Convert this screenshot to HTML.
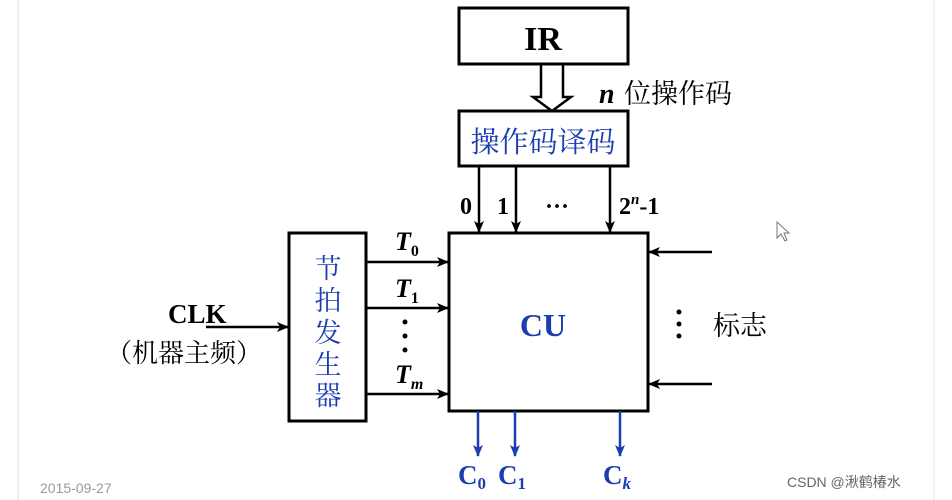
<!DOCTYPE html>
<html><head><meta charset="utf-8"><style>
body{margin:0;background:#fff;}
svg{display:block}
.s{font-family:"Liberation Serif","Noto Serif CJK SC",serif;}
.k{font-family:"Liberation Serif","Noto Serif CJK SC",serif;}
.g{font-family:"Liberation Sans","Noto Sans CJK SC",sans-serif;}
</style></head><body>
<svg width="952" height="500" viewBox="0 0 952 500" xmlns="http://www.w3.org/2000/svg">
<defs>
<marker id="a" markerWidth="12" markerHeight="10" refX="11" refY="5" orient="auto" markerUnits="userSpaceOnUse"><path d="M0,0 L12,5 L0,10 L3,5 Z" fill="#000"/></marker>
<marker id="b" markerWidth="12" markerHeight="10" refX="11" refY="5" orient="auto" markerUnits="userSpaceOnUse"><path d="M0,0 L12,5 L0,10 L3,5 Z" fill="#1a3db0"/></marker>
</defs>
<line x1="18" y1="0" x2="18" y2="500" stroke="#ddd" stroke-width="1"/>
<line x1="934" y1="0" x2="934" y2="500" stroke="#e5e5e5" stroke-width="1"/>
<g fill="none" stroke="#000" stroke-width="3">
<rect x="459" y="8" width="169" height="56"/>
<rect x="459" y="111" width="169" height="55"/>
<rect x="449" y="233" width="199" height="178"/>
<rect x="289" y="233" width="77" height="188"/>
</g>
<path d="M541,64 V97 H533 L552,111 L571,97 H563 V64" fill="none" stroke="#000" stroke-width="2.5"/>
<g stroke="#000" stroke-width="2.5" marker-end="url(#a)">
<line x1="479" y1="166" x2="479" y2="232"/>
<line x1="516" y1="166" x2="516" y2="232"/>
<line x1="610" y1="166" x2="610" y2="232"/>
<line x1="366" y1="262" x2="448" y2="262"/>
<line x1="366" y1="308" x2="448" y2="308"/>
<line x1="366" y1="394" x2="448" y2="394"/>
<line x1="206" y1="327" x2="288" y2="327"/>
<line x1="712" y1="252" x2="649" y2="252"/>
<line x1="712" y1="384" x2="649" y2="384"/>
</g>
<g stroke="#1a3db0" stroke-width="2.5" marker-end="url(#b)">
<line x1="478" y1="411" x2="478" y2="456"/>
<line x1="515" y1="411" x2="515" y2="456"/>
<line x1="620" y1="411" x2="620" y2="456"/>
</g>
<text x="543" y="50" class="s" font-size="34" font-weight="bold" text-anchor="middle">IR</text>
<text x="599" y="103" class="s" font-size="28" font-weight="bold" font-style="italic">n</text>
<text x="624" y="103" class="k" font-size="27">位操作码</text>
<text x="543" y="152" class="k" font-size="29" fill="#1a3db0" text-anchor="middle">操作码译码</text>
<text x="460" y="214" class="s" font-size="24" font-weight="bold">0</text>
<text x="497" y="214" class="s" font-size="24" font-weight="bold">1</text>
<text x="545" y="214" class="s" font-size="24" font-weight="bold">···</text>
<text x="619" y="214" class="s" font-size="24" font-weight="bold">2<tspan font-size="15" dy="-10" font-style="italic">n</tspan><tspan dy="10">-1</tspan></text>
<text x="543" y="336" class="s" font-size="32" font-weight="bold" fill="#1a3db0" text-anchor="middle">CU</text>
<text x="395" y="250" class="s" font-size="26" font-weight="bold" font-style="italic">T<tspan font-size="16" font-style="normal" dy="6">0</tspan></text>
<text x="395" y="297" class="s" font-size="26" font-weight="bold" font-style="italic">T<tspan font-size="16" font-style="normal" dy="6">1</tspan></text>
<text x="395" y="383" class="s" font-size="26" font-weight="bold" font-style="italic">T<tspan font-size="16" dy="6">m</tspan></text>
<g fill="#000"><circle cx="405" cy="322" r="2.5"/><circle cx="405" cy="336" r="2.5"/><circle cx="405" cy="350" r="2.5"/>
<circle cx="679" cy="312" r="2.5"/><circle cx="679" cy="324" r="2.5"/><circle cx="679" cy="336" r="2.5"/></g>
<text x="713" y="335" class="k" font-size="27">标志</text>
<g class="k" font-size="27" fill="#1a3db0" text-anchor="middle">
<text x="328" y="278">节</text><text x="328" y="310">拍</text><text x="328" y="342">发</text><text x="328" y="374">生</text><text x="328" y="405">器</text>
</g>
<text x="168" y="323" class="s" font-size="27" font-weight="bold">CLK</text>
<text x="106" y="362" class="k" font-size="26">（机器主频）</text>
<text x="458" y="484" class="s" font-size="27" font-weight="bold" fill="#1a3db0">C<tspan font-size="17" dy="5">0</tspan></text>
<text x="498" y="484" class="s" font-size="27" font-weight="bold" fill="#1a3db0">C<tspan font-size="17" dy="5">1</tspan></text>
<text x="603" y="484" class="s" font-size="27" font-weight="bold" fill="#1a3db0">C<tspan font-size="17" dy="5" font-style="italic">k</tspan></text>
<text x="40" y="493" class="g" font-size="14" fill="#999">2015-09-27</text>
<text x="787" y="487" class="g" font-size="14" fill="#666">CSDN @湫鹤椿水</text>
<path d="M777,222 L777,238 L781,234 L785,241 L787,240 L784,233 L789,233 Z" fill="#fff" stroke="#777" stroke-width="1"/>
</svg>
</body></html>
